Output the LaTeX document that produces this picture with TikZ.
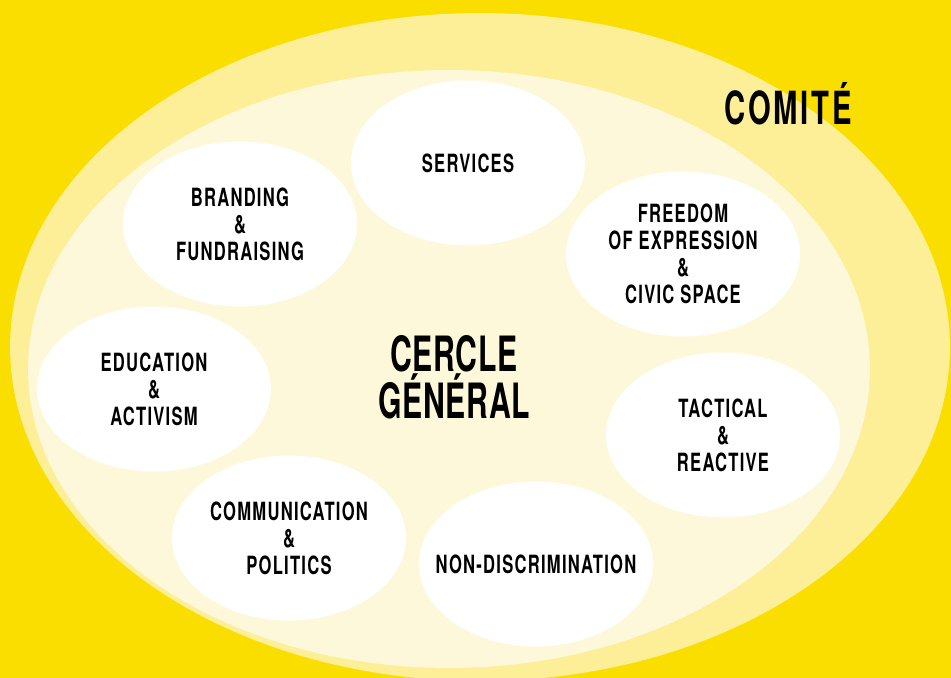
\documentclass[tikz,border=0pt]{standalone}
\usepackage{fontspec}
\setmainfont{TeX Gyre Heros}
\newfontfamily\labelfont[FakeStretch=0.66,LetterSpace=5]{TeX Gyre Heros}
\newfontfamily\titlefont[FakeStretch=0.62,LetterSpace=1.5]{TeX Gyre Heros}
\newfontfamily\comitefont[FakeStretch=0.64,LetterSpace=6]{TeX Gyre Heros}
\usetikzlibrary{shapes.geometric}
\definecolor{comiteyellow}{HTML}{F9DE00}
\definecolor{bandyellow}{HTML}{FCEF98}
\definecolor{paleyellow}{HTML}{FEF8DA}

\begin{document}
\begin{tikzpicture}[x=0.02cm,y=-0.02cm,
  group/.style={ellipse,fill=white,minimum width=4.68cm,minimum height=3.3cm,inner sep=0pt,align=center,
    font=\labelfont\bfseries\fontsize{14.3}{15.4}\selectfont},
  bigtitle/.style={align=center,inner sep=0pt,font=\titlefont\bfseries\fontsize{27.7}{25.6}\selectfont}]

% Background and rings
\useasboundingbox (0,0) rectangle (951,678);
\fill[comiteyellow] (0,0) rectangle (951,678);
\fill[bandyellow] (480,347) ellipse [x radius=9.4cm, y radius=6.68cm];
\fill[paleyellow] (449,369) ellipse [x radius=8.42cm, y radius=5.98cm];

% Working groups
\node (services) at (468,163) [group] {SERVICES};
\node (branding) at (240,224) [group] {BRANDING\\\&\\FUNDRAISING};
\node (freedom) at (683,254) [group] {FREEDOM\\OF EXPRESSION\\\&\\CIVIC SPACE};
\node (education) at (154,389) [group] {EDUCATION\\\&\\ACTIVISM};
\node (tactical) at (723,435) [group] {TACTICAL\\\&\\REACTIVE};
\node (communication) at (289,538) [group] {COMMUNICATION\\\&\\POLITICS};
\node (nondiscrimination) at (536,564) [group] {\makebox[0pt]{NON-DISCRIMINATION}};

% Labels
\node (general) at (454,377) [bigtitle] {CERCLE\\GÉNÉRAL};
\node (comite) at (788,125) [anchor=base,inner sep=0pt,font=\comitefont\bfseries\fontsize{26}{26}\selectfont] {COMITÉ};

\end{tikzpicture}
\end{document}
